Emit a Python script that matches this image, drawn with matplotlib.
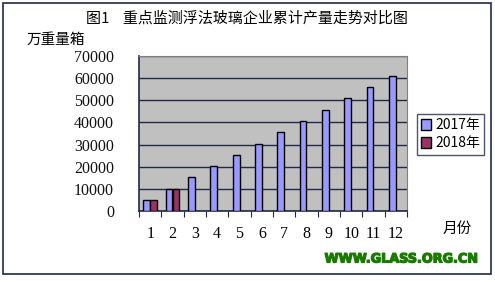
import numpy as np
import matplotlib
matplotlib.use("Agg")
import matplotlib.pyplot as plt
import matplotlib.patheffects as pe
from matplotlib.patches import Rectangle

plt.rcParams['font.family'] = ['Noto Sans CJK SC', 'DejaVu Sans']

months = [str(m) for m in range(1, 13)]
y2017 = [4900, 9900, 15300, 20100, 25100, 30100, 35500, 40500, 45500, 50900, 55900, 60900]
y2018 = [4900, 9900]
yticks = list(range(0, 70001, 10000))

W, H = 495, 281
fig = plt.figure(figsize=(W / 100, H / 100), dpi=100)
fig.patch.set_facecolor('white')

def fx(px):
    return px / W

def fy(py):
    return 1 - py / H

# outer frame
fig.patches.append(Rectangle((fx(3), fy(274)), fx(488), 271 / H, transform=fig.transFigure,
                             fill=False, edgecolor='#1f2a44', linewidth=1.2))

ax = fig.add_axes([fx(139), fy(211), fx(407 - 139), (211 - 56) / H])
ax.set_facecolor('#c0c0c0')

x = np.arange(12)
bw = 0.3
ax.bar(x - bw / 2, y2017, width=bw, color='#9999ff', edgecolor='black', linewidth=1, label='2017年', zorder=3)
ax.bar(x[:len(y2018)] + bw / 2, y2018, width=bw, color='#993366', edgecolor='black', linewidth=1, label='2018年', zorder=3)

ax.set_xlim(-0.5, 11.5)
ax.set_ylim(0, 70000)
ax.set_yticks(yticks)
ax.set_yticklabels([str(v) for v in yticks], fontsize=11.5, family='Liberation Serif', color='#111111')
ax.yaxis.grid(True, color='#1f2a44', linewidth=1, zorder=1)
ax.set_axisbelow(True)

ax.set_xticks(np.arange(-0.5, 12, 1))
ax.set_xticklabels([])
ax.set_xticks(x, minor=True)
ax.set_xticklabels(months, minor=True, fontsize=11.5, family='Liberation Serif')
ax.tick_params(axis='x', which='major', length=4, direction='out', color='#1f2a44')
ax.tick_params(axis='x', which='minor', length=0, pad=11)
ax.tick_params(axis='y', length=0, pad=18)

for s in ['top', 'right']:
    ax.spines[s].set_color('#808080')
for s in ['left', 'bottom']:
    ax.spines[s].set_color('#1f2a44')
    ax.spines[s].set_linewidth(1.2)

leg = ax.legend(loc='upper left', bbox_to_anchor=((417 - 139) / (407 - 139), 1 - (114 - 56) / (211 - 56)),
                frameon=True, fancybox=False, edgecolor='#1f2a44', fontsize=10,
                handlelength=0.7, handleheight=0.9, handletextpad=0.3, borderpad=0.3,
                labelspacing=0.3, borderaxespad=0)
leg.get_frame().set_linewidth(1)

fig.text(fx(247), fy(18), '图1    重点监测浮法玻璃企业累计产量走势对比图', ha='center', va='center', fontsize=10.8)
fig.text(fx(27), fy(40), '万重量箱', ha='left', va='center', fontsize=10.5)
fig.text(fx(457), fy(229), '月份', ha='center', va='center', fontsize=10.5)
fig.text(fx(401), fy(259), 'WWW.GLASS.ORG.CN', ha='center', va='center', fontsize=9.2,
         fontweight='bold', color='#1a7a00', family='DejaVu Sans',
         path_effects=[pe.withStroke(linewidth=0.9, foreground='#1a7a00')])

fig.savefig('out.png', dpi=100)
